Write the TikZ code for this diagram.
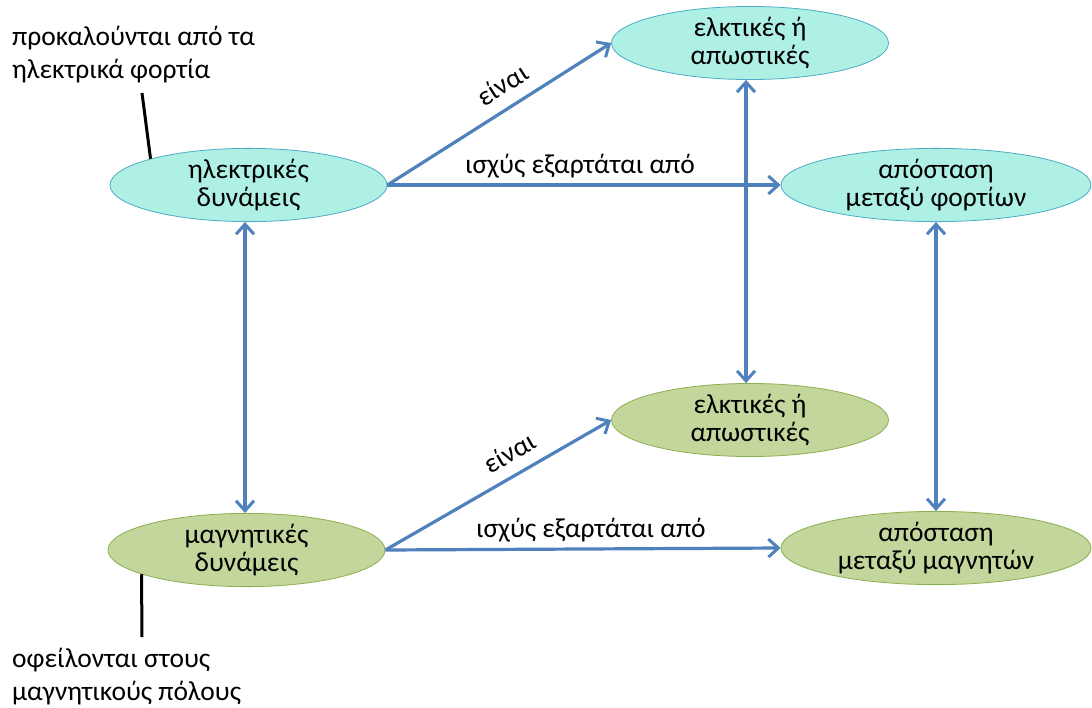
\documentclass[tikz,border=0pt]{standalone}
\usepackage{fontspec}
\setmainfont{Carlito}
\usetikzlibrary{arrows.meta,shapes.geometric}

\definecolor{cyanfill}{RGB}{174,240,228}
\definecolor{cyanedge}{RGB}{75,172,198}
\definecolor{greenfill}{RGB}{195,214,155}
\definecolor{greenedge}{RGB}{140,175,80}
\definecolor{linkblue}{RGB}{79,129,189}

\tikzset{
  concept/.style={ellipse, line width=0.8pt, minimum width=277pt, minimum height=63pt,
    inner sep=0pt, align=center, font=\fontsize{27.5}{28}\selectfont},
  elec/.style={concept, draw=cyanedge, fill=cyanfill},
  magn/.style={concept, draw=greenedge, fill=greenfill},
  barb/.tip={Straight Barb[length=10pt,width=18pt,line width=3pt]},
  link/.style={draw=linkblue, line width=3.2pt, -barb},
  twoway/.style={draw=linkblue, line width=3.2pt, barb-barb},
  linklabel/.style={font=\fontsize{27.5}{28}\selectfont, text=black, inner sep=2pt},
  note/.style={align=left, font=\fontsize{27.5}{33}\selectfont, inner sep=0pt},
  pointer/.style={draw=black, line width=3pt},
}

\begin{document}
\begin{tikzpicture}[x=1pt, y=-1pt]
  \useasboundingbox[fill=white] (0,0) rectangle (1092,707);

  % electric forces
  \node[elec] (E)  at (248.5,185) {ηλεκτρικές\\δυνάμεις};
  \node[elec] (EA) at (750,43)    {ελκτικές ή\\απωστικές};
  \node[elec, minimum width=310pt] (ED) at (936,185) {απόσταση\\μεταξύ φορτίων};

  % magnetic forces
  \node[magn] (M)  at (246.5,550) {μαγνητικές\\δυνάμεις};
  \node[magn] (MA) at (750,420)   {ελκτικές ή\\απωστικές};
  \node[magn, minimum width=310pt] (MD) at (936,548) {απόσταση\\μεταξύ μαγνητών};

  % annotations and their pointers
  \node[note, anchor=north west] (n1) at (12,26) {προκαλούνται από τα\\ηλεκτρικά φορτία};
  \node[note, anchor=north west] (n2) at (12,648) {οφείλονται στους\\μαγνητικούς πόλους};
  \coordinate (p1) at (142,93);
  \coordinate (p2) at (142,637);
  \draw[pointer] (p1) -- (E.165.5);
  \draw[pointer] (M.193.3) -- (p2);

  % relations
  \draw[link] (E.east) -- node[linklabel, sloped, above=10pt, pos=0.57] {είναι} (EA.west);
  \draw[link] (E.east) -- node[linklabel, above=3pt, pos=0.49] {ισχύς εξαρτάται από} (ED.west);
  \draw[link] (M.east) -- node[linklabel, sloped, above=9pt, pos=0.6] {είναι} (MA.west);
  \draw[link] (M.east) -- node[linklabel, above=3pt, pos=0.52] {ισχύς εξαρτάται από} (MD.west);

  \draw[twoway] (E.south -| 245,0) -- (M.north -| 245,0);
  \draw[twoway] ([xshift=-4pt]EA.south) -- ([xshift=-4pt]MA.north);
  \draw[twoway] (ED.south) -- (MD.north);
\end{tikzpicture}
\end{document}
